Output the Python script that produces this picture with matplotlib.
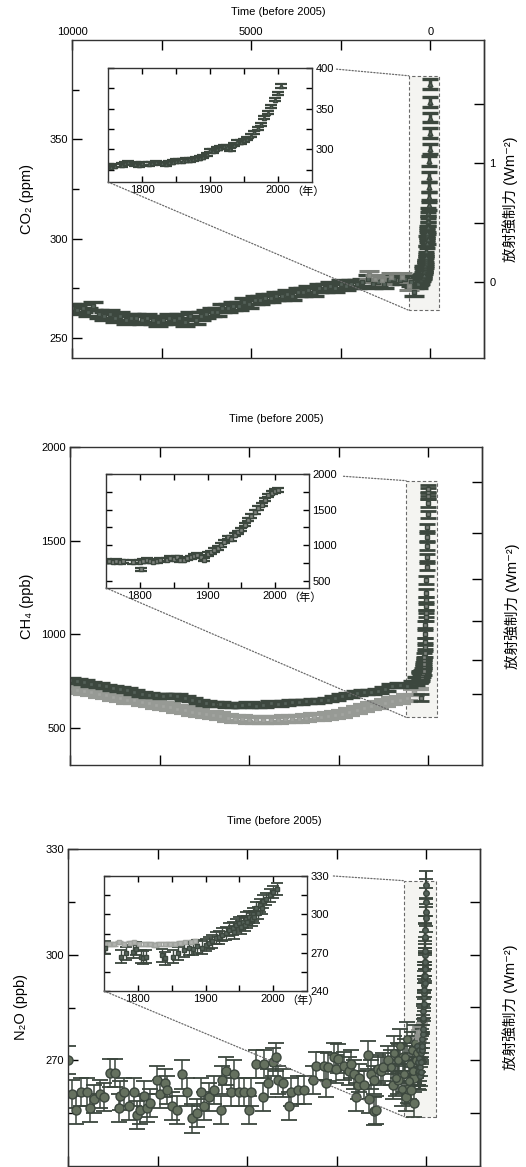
import numpy as np
import matplotlib
matplotlib.use("Agg")
import matplotlib.pyplot as plt
from matplotlib.patches import Rectangle, ConnectionPatch
from matplotlib.ticker import FixedLocator

plt.rcParams['font.family'] = ['Liberation Sans', 'Noto Sans CJK JP', 'DejaVu Sans']

# =========================
# DATA
# =========================
# CO2, Holocene (years before 2005, ppm)
co2_bp = [10000, 9850, 9700, 9550, 9400, 9250, 9100, 8950, 8800, 8650, 8500, 8350, 8200, 8050,
          7900, 7750, 7600, 7450, 7300, 7150, 7000, 6850, 6700, 6550, 6400, 6250, 6100, 5950,
          5800, 5650, 5500, 5350, 5200, 5050, 4900, 4750, 4600, 4450, 4300, 4150, 4000, 3850,
          3700, 3550, 3400, 3250, 3100, 2950, 2800, 2650, 2500, 2350, 2200, 2050, 1900, 1750,
          1600, 1450, 1300, 1150, 1000, 850, 700, 550, 450, 350, 300]
co2_ppm = [265, 264, 265, 263, 266, 262, 261, 262, 260, 261, 259, 260, 260, 259,
           260, 259, 258, 259, 260, 259, 260, 258, 261, 259, 261, 262, 263, 263,
           265, 265, 266, 266, 268, 267, 269, 269, 270, 270, 271, 271, 272, 271,
           273, 273, 274, 273, 275, 275, 276, 275, 277, 276, 277, 277, 278, 280,
           277, 278, 277, 279, 280, 279, 280, 278, 273, 277, 279]
co2_b_bp = [1700, 1550, 1350, 1100, 800, 600]
co2_b_ppm = [282, 280, 279, 281, 281, 276]
# CO2, industrial era (calendar year, ppm)
co2_year = [1750, 1755, 1760, 1770, 1775, 1780, 1790, 1795, 1800, 1810, 1815, 1820, 1830, 1835,
            1840, 1845, 1850, 1855, 1860, 1865, 1870, 1875, 1880, 1885, 1890, 1895, 1900, 1905,
            1910, 1915, 1920, 1925, 1930, 1935, 1940, 1945, 1950, 1955, 1960, 1965, 1970, 1975,
            1980, 1985, 1990, 1995, 2000, 2005]
co2_ind = [280, 279, 280, 281, 283, 284, 282, 281, 283, 282, 283, 284, 283, 282,
           284, 285, 286, 286, 286, 287, 287, 288, 289, 290, 291, 294, 299, 298,
           301, 302, 304, 303, 300, 306, 309, 309, 311, 313, 317, 321, 326, 331,
           339, 345, 353, 361, 369, 378]

# CH4, Holocene (years before 2005, ppb): upper (dark) and lower (light) records
ch4_bp = [10000, 9800, 9600, 9400, 9200, 9000, 8800, 8600, 8400, 8200, 8000, 7800, 7600, 7400,
          7200, 7000, 6800, 6600, 6400, 6200, 6000, 5800, 5600, 5400, 5200, 5000, 4800, 4600,
          4400, 4200, 4000, 3800, 3600, 3400, 3200, 3000, 2800, 2600, 2400, 2200, 2000, 1800,
          1600, 1400, 1200, 1000, 800, 600, 400, 300]
ch4_dark = [755, 750, 745, 735, 727, 720, 710, 705, 700, 690, 680, 675, 672, 670,
            672, 668, 660, 650, 640, 632, 628, 625, 622, 618, 620, 625, 618, 622,
            630, 625, 632, 638, 635, 640, 642, 645, 650, 660, 670, 675, 685, 690,
            692, 695, 705, 725, 730, 725, 740, 760]
ch4_light = [705, 700, 695, 688, 680, 672, 665, 658, 650, 645, 638, 630, 622, 615,
             608, 600, 592, 585, 578, 570, 565, 560, 552, 548, 545, 542, 540, 540,
             538, 542, 545, 545, 548, 552, 555, 558, 562, 568, 575, 585, 595, 605,
             615, 622, 630, 640, 648, 660, 690, 720]
# CH4, industrial era (calendar year, ppb)
ch4_year = [1750, 1755, 1760, 1765, 1770, 1775, 1790, 1800, 1802, 1805, 1810, 1815, 1820, 1825,
            1830, 1840, 1845, 1850, 1855, 1860, 1865, 1870, 1875, 1880, 1885, 1890, 1895, 1900,
            1905, 1910, 1915, 1920, 1925, 1930, 1935, 1940, 1945, 1950, 1955, 1960, 1965, 1970,
            1975, 1980, 1985, 1990, 1995, 2000, 2004]
ch4_ind = [780, 775, 770, 785, 760, 775, 765, 770, 660, 780, 790, 775, 770, 780,
           790, 800, 820, 810, 830, 790, 800, 815, 830, 850, 860, 840, 800, 880,
           900, 930, 960, 1000, 1050, 1110, 1090, 1150, 1180, 1220, 1290, 1360, 1410, 1470,
           1520, 1570, 1640, 1700, 1740, 1760, 1775]

# N2O, Holocene (years before 2005, ppb)
n2o_bp = [9990, 9890, 9790, 9650, 9470, 9380, 9280, 9100, 9000, 8820, 8680, 8580, 8540, 8440,
          8300, 8160, 8070, 7980, 7880, 7790, 7700, 7510, 7420, 7280, 7230, 7090, 6950, 6810,
          6670, 6530, 6390, 6300, 6200, 6060, 5920, 5740, 5690, 5600, 5460, 5360, 5220, 5080,
          4940, 4900, 4760, 4570, 4520, 4430, 4290, 4200, 4150, 4010, 3830, 3780, 3590, 3400,
          3170, 3080, 2850, 2800, 2750, 2570, 2520, 2470, 2290, 2150, 2100, 2010, 1950, 1910,
          1870, 1730, 1630, 1600, 1540, 1460, 1450, 1400, 1350, 1260, 1210, 1070, 930, 790,
          760, 650, 560, 510, 420, 340, 330]
n2o_ppb = [270.0, 260.5, 256.0, 261.0, 261.0, 256.5, 259.0, 260.5, 259.5, 266.5, 266.5, 256.5, 260.0, 261.0,
           257.0, 261.0, 254.5, 256.0, 260.0, 256.5, 258.0, 264.5, 260.5, 263.5, 261.5, 257.0, 256.0, 266.0,
           261.0, 253.5, 255.0, 261.0, 257.0, 259.5, 261.5, 256.0, 264.5, 267.0, 261.0, 266.0, 261.0, 261.0,
           256.0, 261.0, 269.0, 259.5, 269.0, 263.5, 269.5, 271.0, 264.5, 263.5, 257.0, 261.0, 261.5, 261.5,
           264.5, 268.5, 268.5, 263.5, 268.0, 271.0, 267.5, 270.5, 268.5, 267.0, 269.0, 266.0, 259.5, 263.0,
           265.0, 263.0, 271.5, 259.0, 266.0, 255.5, 264.5, 256.0, 267.5, 267.0, 268.0, 270.0, 263.0, 264.5,
           270.5, 271.0, 259.5, 262.0, 261.5, 258.0, 265.0]
# N2O, dense late-Holocene cluster (years before 2005, ppb)
n2o_late_bp = [980, 900, 850, 800, 720, 680, 620, 590, 540, 480, 450, 400, 370, 320, 290, 270]
n2o_late = [268.0, 272.0, 265.0, 270.0, 274.0, 262.0, 266.0, 271.0, 276.0, 264.0, 269.0, 273.0,
            267.0, 275.0, 270.0, 272.0]
# N2O, industrial era (calendar year, ppb)
n2o_year = [1752, 1775, 1782, 1793, 1797, 1805, 1808, 1812, 1835, 1840, 1852, 1860, 1868, 1875,
            1882, 1888, 1895, 1900, 1905, 1910, 1915, 1920, 1925, 1930, 1935, 1940, 1942, 1945,
            1950, 1952, 1955, 1958, 1960, 1962, 1965, 1968, 1970, 1972, 1975, 1978, 1980, 1983,
            1985, 1990, 1995, 2000, 2005]
n2o_ind = [274.0, 266.8, 269.5, 270.8, 273.0, 267.0, 266.0, 267.0, 268.0, 265.6, 266.8, 269.5, 272.0, 273.5,
           273.0, 275.0, 274.0, 276.0, 277.6, 279.0, 281.5, 282.0, 284.0, 285.3, 288.0, 289.0, 286.0, 291.5,
           293.0, 290.0, 294.0, 292.0, 296.6, 294.0, 298.0, 296.0, 300.0, 298.0, 304.6, 301.0, 307.0, 305.0,
           310.3, 312.0, 315.0, 317.5, 319.8]
n2o_gray_year = [1752, 1758, 1765, 1772, 1780, 1788, 1795, 1802, 1810, 1818, 1825, 1832, 1840,
                 1848, 1855, 1862, 1870, 1878, 1885]
n2o_gray = [277.0, 276.5, 277.0, 278.0, 276.5, 277.5, 278.0, 277.0, 276.5, 277.0, 276.0, 276.5, 277.0,
            276.5, 277.0, 277.5, 278.0, 278.5, 279.0]

# =========================
# STYLE
# =========================
W, H = 526, 1167
DARK = '#55625a'
EDGE = '#3c473e'
LIGHT = '#a3a5a1'
BOX = '#6a6a6a'
TICK_FS = 8
LABEL_FS = 10.5
RF_LABEL = '放射強制力 (Wm⁻²)'


def frac(l, t, r, b):
    return [l / W, 1 - b / H, (r - l) / W, (b - t) / H]


def setup_main(ax, ylim, yticks, yminor, top_labels, ylabel, ylab_x, rlab_x):
    ax.set_xlim(10000, -1500)
    ax.set_ylim(*ylim)
    ax.xaxis.set_major_locator(FixedLocator([10000, 5000, 0]))
    ax.xaxis.set_minor_locator(FixedLocator([7500, 2500]))
    ax.yaxis.set_major_locator(FixedLocator(yticks))
    ax.yaxis.set_minor_locator(FixedLocator(yminor))
    ax.tick_params(axis='x', which='both', direction='in', length=7, width=1,
                   top=True, bottom=True, labelbottom=False, labeltop=top_labels,
                   labelsize=TICK_FS, pad=2)
    ax.tick_params(axis='y', which='major', direction='in', length=7, width=1,
                   right=False, labelsize=TICK_FS, pad=3)
    ax.tick_params(axis='y', which='minor', direction='in', length=5, width=1, right=False)
    for s in ax.spines.values():
        s.set_linewidth(1.0)
        s.set_color('#333333')
    ax.text(ylab_x, 0.5, ylabel, rotation=90, ha='center', va='center',
            fontsize=LABEL_FS, transform=ax.transAxes)
    ax.text(rlab_x, 0.5, RF_LABEL, rotation=90, ha='center', va='center',
            fontsize=LABEL_FS, transform=ax.transAxes)
    ax.text(0.5, 1 + 28 / 318, 'Time (before 2005)', ha='center', va='center',
            fontsize=TICK_FS, transform=ax.transAxes)


def setup_right(ax, fwd, inv, majors, minors, labels):
    sec = ax.secondary_yaxis('right', functions=(fwd, inv))
    sec.yaxis.set_major_locator(FixedLocator(majors))
    sec.yaxis.set_minor_locator(FixedLocator(minors))
    sec.tick_params(axis='y', which='both', direction='in', length=7, width=1,
                    labelsize=TICK_FS, pad=4, labelright=labels)
    sec.spines['right'].set_linewidth(1.0)
    sec.spines['right'].set_color('#333333')
    return sec


def setup_inset(ins, ylim, yticks, yminor):
    ins.set_xlim(1750, 2050)
    ins.set_ylim(*ylim)
    ins.xaxis.set_major_locator(FixedLocator([1800, 1900, 2000]))
    ins.xaxis.set_minor_locator(FixedLocator([1850, 1950]))
    ins.yaxis.set_major_locator(FixedLocator(yticks))
    ins.yaxis.set_minor_locator(FixedLocator(yminor))
    ins.tick_params(axis='both', which='both', direction='in', length=4, width=1,
                    top=True, bottom=True, left=True, right=True,
                    labelleft=False, labelright=True, labelsize=TICK_FS, pad=2.5)
    for s in ins.spines.values():
        s.set_linewidth(1.0)
        s.set_color('#333333')
    ins.text(0.98, -0.035, '（年）', transform=ins.transAxes, ha='center', va='top',
             fontsize=TICK_FS)


def zoom_box(fig, ax, ins, x0, x1, y0, y1, start):
    ax.add_patch(Rectangle((x1, y0), x0 - x1, y1 - y0, fill=True, facecolor='#f4f4f1',
                           edgecolor=BOX, linestyle=(0, (3, 2)), linewidth=0.8, zorder=0.5))
    top = ConnectionPatch(xyA=start, coordsA=ins.transAxes, xyB=(x0, y1), coordsB=ax.transData,
                          linestyle=(0, (1, 1.5)), color=BOX, linewidth=0.9)
    bot = ConnectionPatch(xyA=(0, 0), coordsA=ins.transAxes, xyB=(x0, y0), coordsB=ax.transData,
                          linestyle=(0, (1, 1.5)), color=BOX, linewidth=0.9)
    fig.add_artist(top)
    fig.add_artist(bot)


def eb(ax, x, y, err, color, ecolor, marker='s', ms=3, cap=6, cth=2.0, elw=1.2, z=2):
    ax.errorbar(x, y, yerr=err, fmt=marker, ms=ms, color=color, mec=ecolor, ecolor=ecolor,
                elinewidth=elw, capsize=cap, capthick=cth, zorder=z)


fig = plt.figure(figsize=(W / 100, H / 100), dpi=100)

# =========================
# CO2
# =========================
ax1 = fig.add_axes(frac(72, 40, 484, 358))
setup_main(ax1, (240, 400), [250, 300, 350], [275, 325, 375], True, 'CO₂ (ppm)', -0.109, 1.063)
setup_right(ax1, lambda c: (c - 278) / 60, lambda f: f * 60 + 278, [0, 1], [0.5, 1.5], True)
co2_ind_bp = 2005 - np.array(co2_year)
eb(ax1, co2_bp, co2_ppm, 2, DARK, EDGE, cap=7, cth=2.4)
eb(ax1, co2_b_bp, co2_b_ppm, 2, '#8c908a', '#7d817b', cap=7, cth=2.2)
eb(ax1, co2_ind_bp, co2_ind, 2.5, DARK, EDGE, marker='^', ms=3.5, cap=5.5, cth=2.4, elw=2.5)

ins1 = fig.add_axes(frac(108, 68, 312, 182))
setup_inset(ins1, (260, 400), [300, 350, 400], [275, 325, 375])
eb(ins1, co2_year, co2_ind, 2, DARK, EDGE, marker='^', ms=3, cap=4, cth=1.6, elw=1.0)
zoom_box(fig, ax1, ins1, 600, -250, 264, 382, (1.12, 0.99))

# =========================
# CH4
# =========================
ax2 = fig.add_axes(frac(70, 447, 482, 765))
setup_main(ax2, (300, 2000), [500, 1000, 1500, 2000], [], False, 'CH₄ (ppb)', -0.104, 1.073)
setup_right(ax2, lambda m: 0.0303 * (np.sqrt(np.clip(m, 1, None)) - np.sqrt(680)),
            lambda f: (f / 0.0303 + np.sqrt(680)) ** 2,
            [0, 0.1, 0.2, 0.3, 0.4, 0.5], [], False)
ch4_ind_bp = 2005 - np.array(ch4_year)
eb(ax2, ch4_bp, ch4_light, 16, LIGHT, '#979a95', cap=8, cth=3.0, elw=3.0, z=2)
eb(ax2, ch4_bp, ch4_dark, 10, DARK, EDGE, cap=8, cth=2.4, z=2.1)
eb(ax2, ch4_ind_bp, ch4_ind, 20, '#7f837e', EDGE, cap=5.5, cth=2.0, elw=2.0, z=2.2)

ins2 = fig.add_axes(frac(106, 474, 309, 588))
setup_inset(ins2, (400, 2000), [500, 1000, 1500, 2000], [750, 1250, 1750])
eb(ins2, ch4_year, ch4_ind, 25, '#7f837e', EDGE, ms=3, cap=4, cth=1.6, elw=1.0)
zoom_box(fig, ax2, ins2, 620, -245, 555, 1820, (1.17, 0.98))

# =========================
# N2O
# =========================
ax3 = fig.add_axes(frac(68, 849, 480, 1166))
setup_main(ax3, (240, 330), [270, 300, 330], [255, 285, 315], False, 'N₂O (ppb)', -0.114, 1.073)
setup_right(ax3, lambda n: (n - 270) / 300, lambda f: f * 300 + 270,
            [-0.05, 0, 0.05, 0.1, 0.15], [], False)
n2o_ind_bp = 2005 - np.array(n2o_year)
n2o_gray_bp = 2005 - np.array(n2o_gray_year)
eb(ax3, n2o_bp, n2o_ppb, 4, '#65715f', EDGE, marker='o', ms=6.5, cap=6, cth=1.3, elw=1.1)
eb(ax3, n2o_late_bp, n2o_late, 5, '#65715f', EDGE, marker='o', ms=5.5, cap=6, cth=1.3, elw=1.1)
eb(ax3, n2o_gray_bp, n2o_gray, 1.5, LIGHT, '#8e918c', ms=3, cap=4, cth=1.2, elw=1.0)
eb(ax3, n2o_ind_bp, n2o_ind, 4, DARK, EDGE, marker='o', ms=4, cap=5, cth=1.3, elw=1.5)

ins3 = fig.add_axes(frac(104, 876, 307, 991))
setup_inset(ins3, (240, 330), [240, 270, 300, 330], [255, 285, 315])
eb(ins3, n2o_gray_year, n2o_gray, 1.5, '#b3b5b1', '#a0a39e', ms=2.5, cap=3, cth=1.0, elw=0.8)
eb(ins3, n2o_year, n2o_ind, 5, DARK, EDGE, ms=2.5, cap=4, cth=1.3, elw=1.0)
zoom_box(fig, ax3, ins3, 615, -280, 254, 321, (1.13, 1.0))

fig.savefig('out.png', dpi=100)
